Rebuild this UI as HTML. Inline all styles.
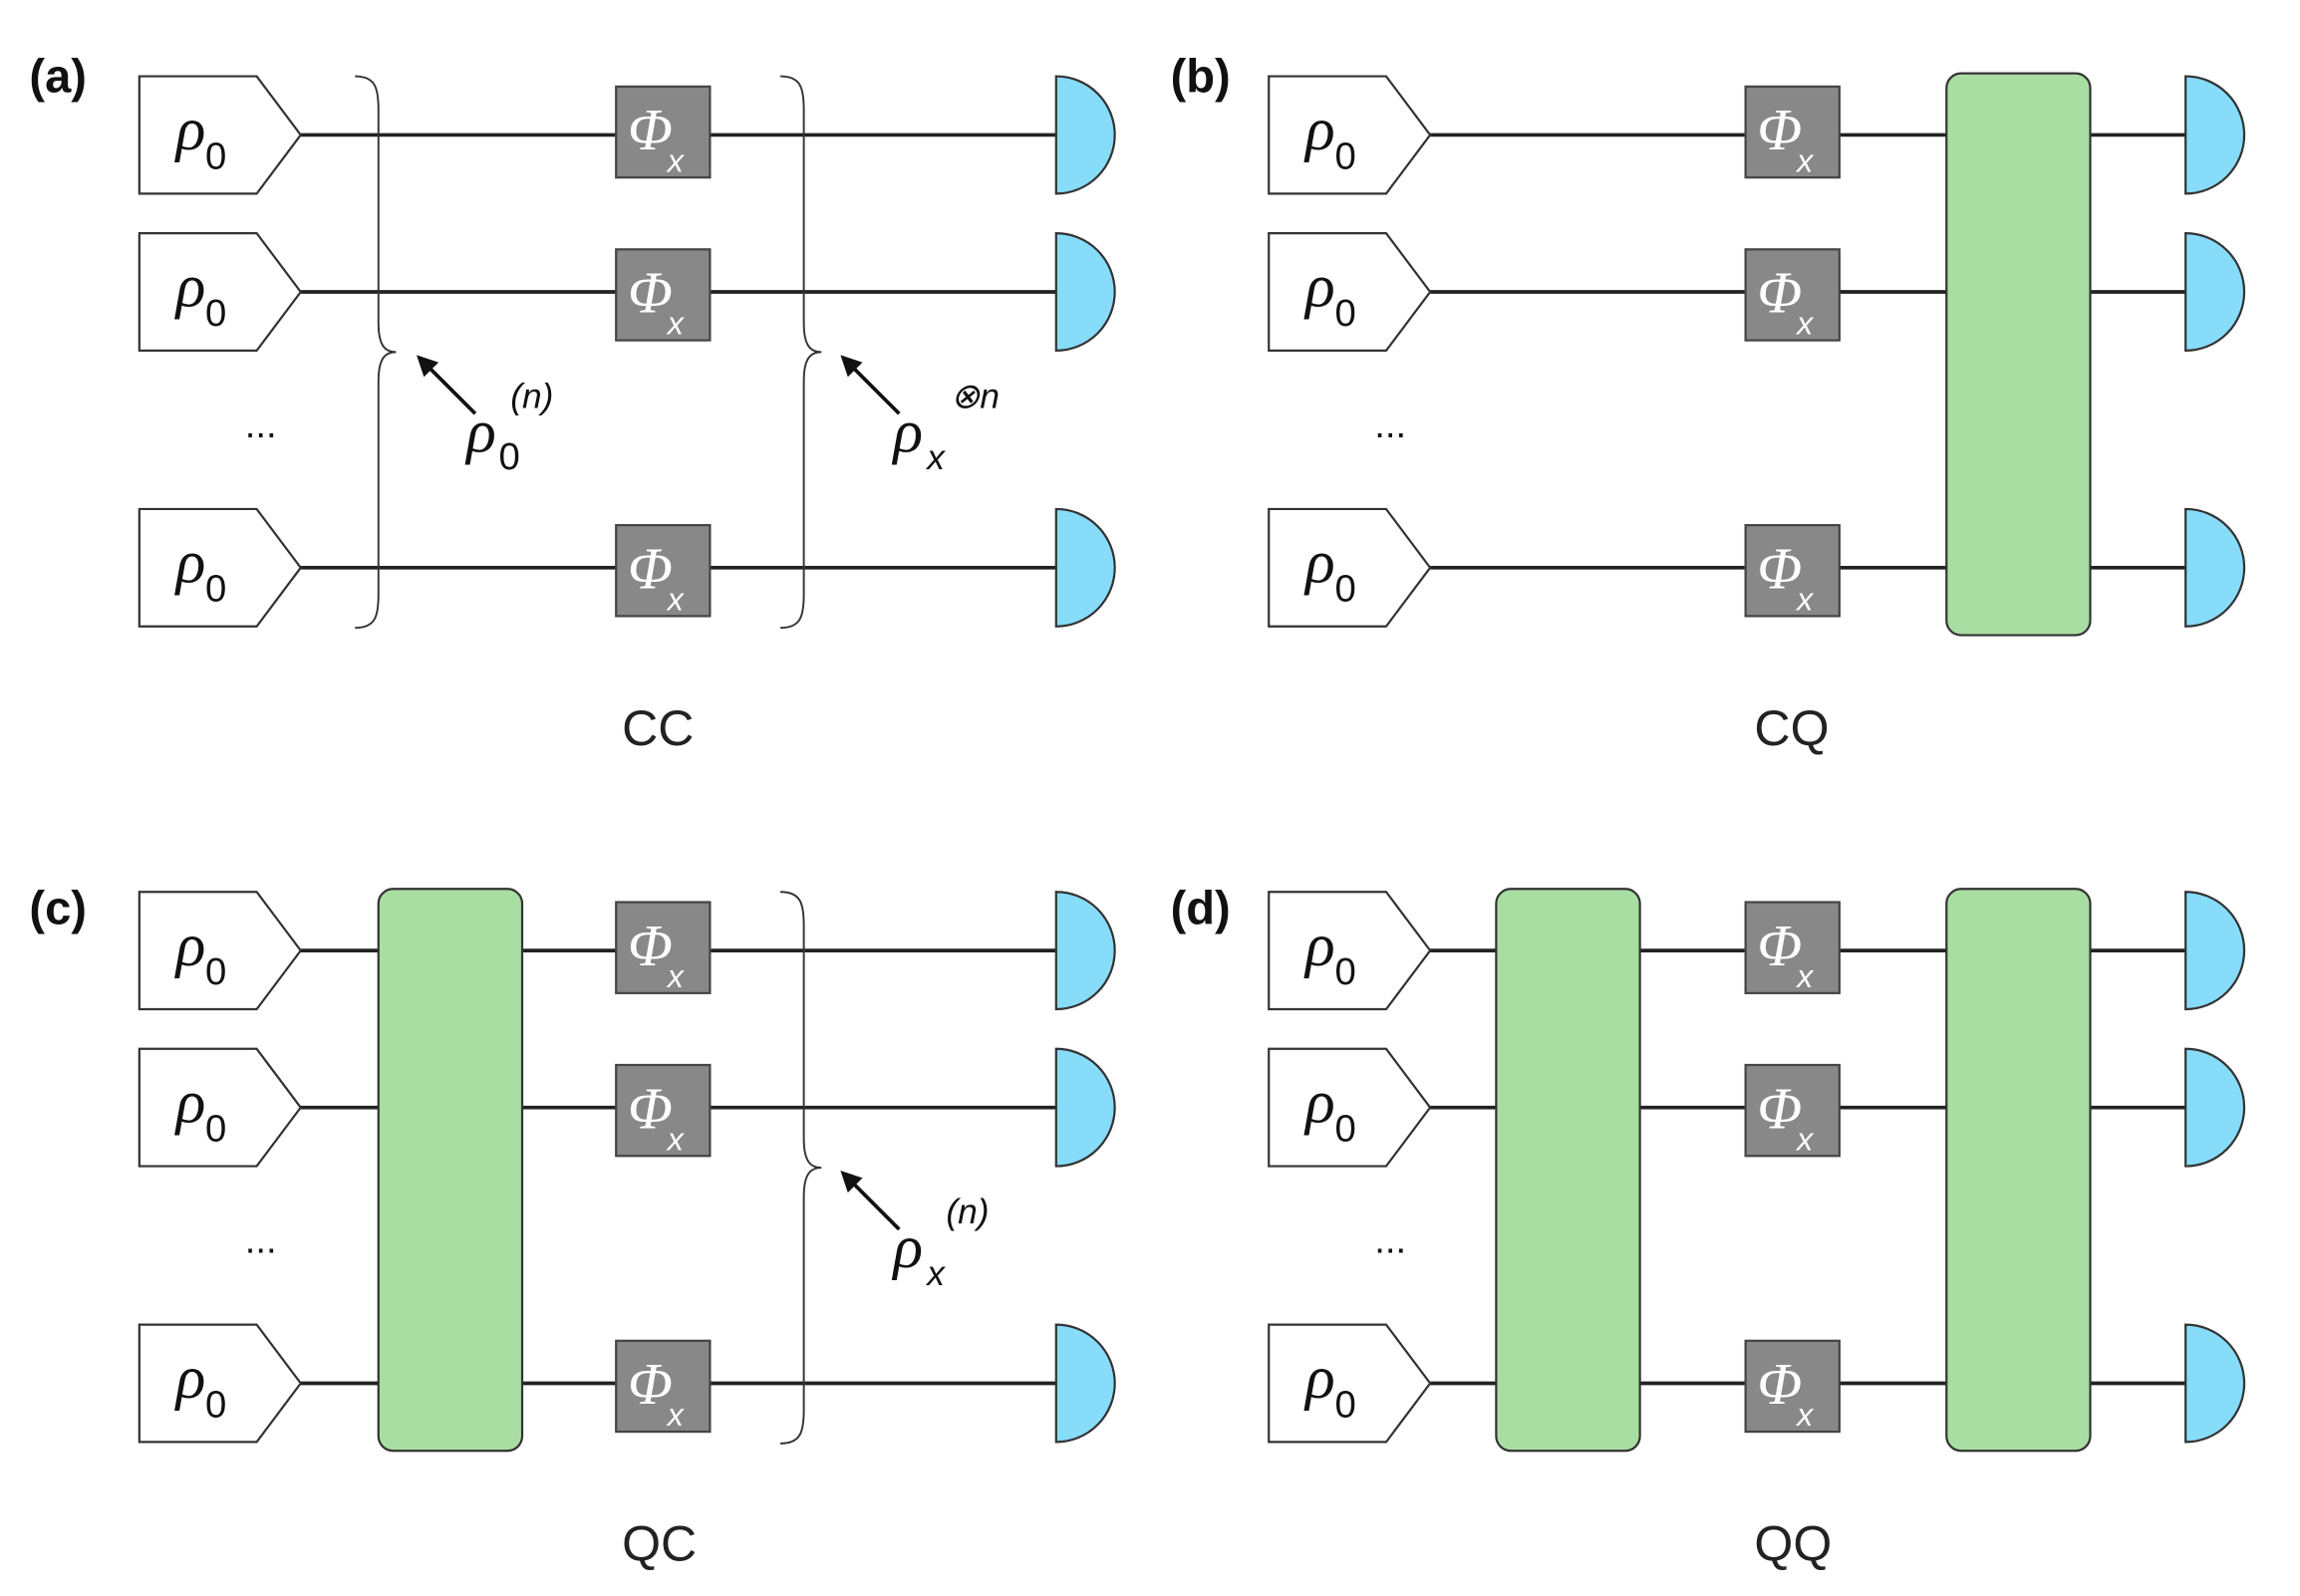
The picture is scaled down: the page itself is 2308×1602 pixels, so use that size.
<!DOCTYPE html>
<html><head><meta charset="utf-8"><style>
html,body{margin:0;padding:0;background:#fff;width:2308px;height:1602px;overflow:hidden}
svg{display:block}
.rho{font-family:"Liberation Serif",serif;font-style:italic;font-size:42px;fill:#111}
.sub{font-family:"Liberation Sans",sans-serif;font-size:26px;fill:#111}
.phi{font-family:"Liberation Serif",serif;font-style:italic;font-size:40px;fill:#fff}
.phs{font-family:"Liberation Sans",sans-serif;font-style:italic;font-size:22px;fill:#fff}
.lab{font-family:"Liberation Sans",sans-serif;font-size:34px;fill:#222}
.pl{font-family:"Liberation Sans",sans-serif;font-weight:bold;font-size:32px;fill:#111}
.sup{font-family:"Liberation Sans",sans-serif;font-style:italic;font-size:24px;fill:#111}
</style></head><body>
<svg width="2308" height="1602" viewBox="0 0 1568 1088" preserveAspectRatio="none" xmlns="http://www.w3.org/2000/svg">
<defs>
<g id="wires" stroke="#222" stroke-width="2.5">
<line x1="205" y1="92" x2="722" y2="92"/><line x1="205" y1="199" x2="722" y2="199"/><line x1="205" y1="387" x2="722" y2="387"/>
</g>
<g id="srcs" fill="#fff" stroke="#333" stroke-width="1.5">
<path d="M95,52H175L205,92L175,132H95Z"/><path d="M95,159H175L205,199L175,239H95Z"/><path d="M95,347H175L205,387L175,427H95Z"/>
</g>
<g id="dets" fill="#87dcfa" stroke="#333" stroke-width="1.5">
<path d="M720,52A40,40 0 0 1 720,132Z"/><path d="M720,159A40,40 0 0 1 720,239Z"/><path d="M720,347A40,40 0 0 1 720,427Z"/>
</g>
<g id="phib" fill="#888" stroke="#444" stroke-width="1.5">
<rect x="420" y="59" width="64" height="62"/><rect x="420" y="170" width="64" height="62"/><rect x="420" y="358" width="64" height="62"/>
</g>
<path id="brace" d="M0,0C14,0 16,8 16,23L16,168C16,183 20,188 28,188C20,188 16,193 16,208L16,353C16,368 14,376 0,376" fill="none" stroke="#333" stroke-width="1.3"/>
<g id="arrow"><line x1="40" y1="40" x2="6" y2="6" stroke="#111" stroke-width="2.5"/><polygon points="0,0 15,5 5,15" fill="#111"/></g>
</defs>

<g>
<use href="#wires"/><use href="#srcs"/><use href="#phib"/><use href="#dets"/>
<use href="#brace" transform="translate(242,52)"/><use href="#brace" transform="translate(532,52)"/>
<use href="#arrow" transform="translate(284,242)"/><use href="#arrow" transform="translate(573,242)"/>
<text class="pl" x="20" y="63">(a)</text>
<text class="rho" x="120" y="102">ρ</text><text class="sub" x="140" y="115">0</text>
<text class="rho" x="120" y="209">ρ</text><text class="sub" x="140" y="222">0</text>
<text class="rho" x="120" y="397">ρ</text><text class="sub" x="140" y="410">0</text>
<text class="phi" x="428" y="102">Φ</text><text class="phs" x="455" y="117">x</text>
<text class="phi" x="428" y="213">Φ</text><text class="phs" x="455" y="228">x</text>
<text class="phi" x="428" y="401">Φ</text><text class="phs" x="455" y="416">x</text>
<text class="sub" x="167" y="298">...</text>
<text class="rho" x="318" y="308">ρ</text><text class="sub" x="340" y="320">0</text><text class="sup" x="348" y="278">(n)</text>
<text class="rho" x="609" y="308">ρ</text><text class="sup" x="632" y="320">x</text><text class="sup" x="648" y="278">⊗n</text>
<text class="lab" x="424" y="508">CC</text>
</g>

<g transform="translate(770,0)">
<use href="#wires"/><use href="#srcs"/><use href="#phib"/><use href="#dets"/>
<rect x="557" y="50" width="98" height="383" rx="10" fill="#a8dea2" stroke="#333" stroke-width="1.5"/>
<text class="pl" x="28" y="63">(b)</text>
<text class="rho" x="120" y="102">ρ</text><text class="sub" x="140" y="115">0</text>
<text class="rho" x="120" y="209">ρ</text><text class="sub" x="140" y="222">0</text>
<text class="rho" x="120" y="397">ρ</text><text class="sub" x="140" y="410">0</text>
<text class="phi" x="428" y="102">Φ</text><text class="phs" x="455" y="117">x</text>
<text class="phi" x="428" y="213">Φ</text><text class="phs" x="455" y="228">x</text>
<text class="phi" x="428" y="401">Φ</text><text class="phs" x="455" y="416">x</text>
<text class="sub" x="167" y="298">...</text>
<text class="lab" x="426" y="508">CQ</text>
</g>

<g transform="translate(0,556)">
<use href="#wires"/><use href="#srcs"/><use href="#phib"/><use href="#dets"/>
<rect x="258" y="50" width="98" height="383" rx="10" fill="#a8dea2" stroke="#333" stroke-width="1.5"/>
<use href="#brace" transform="translate(532,52)"/>
<use href="#arrow" transform="translate(573,242)"/>
<text class="pl" x="20" y="74">(c)</text>
<text class="rho" x="120" y="102">ρ</text><text class="sub" x="140" y="115">0</text>
<text class="rho" x="120" y="209">ρ</text><text class="sub" x="140" y="222">0</text>
<text class="rho" x="120" y="397">ρ</text><text class="sub" x="140" y="410">0</text>
<text class="phi" x="428" y="102">Φ</text><text class="phs" x="455" y="117">x</text>
<text class="phi" x="428" y="213">Φ</text><text class="phs" x="455" y="228">x</text>
<text class="phi" x="428" y="401">Φ</text><text class="phs" x="455" y="416">x</text>
<text class="sub" x="167" y="298">...</text>
<text class="rho" x="609" y="308">ρ</text><text class="sup" x="632" y="320">x</text><text class="sup" x="645" y="278">(n)</text>
<text class="lab" x="424" y="508">QC</text>
</g>

<g transform="translate(770,556)">
<use href="#wires"/><use href="#srcs"/><use href="#phib"/><use href="#dets"/>
<rect x="250" y="50" width="98" height="383" rx="10" fill="#a8dea2" stroke="#333" stroke-width="1.5"/>
<rect x="557" y="50" width="98" height="383" rx="10" fill="#a8dea2" stroke="#333" stroke-width="1.5"/>
<text class="pl" x="28" y="74">(d)</text>
<text class="rho" x="120" y="102">ρ</text><text class="sub" x="140" y="115">0</text>
<text class="rho" x="120" y="209">ρ</text><text class="sub" x="140" y="222">0</text>
<text class="rho" x="120" y="397">ρ</text><text class="sub" x="140" y="410">0</text>
<text class="phi" x="428" y="102">Φ</text><text class="phs" x="455" y="117">x</text>
<text class="phi" x="428" y="213">Φ</text><text class="phs" x="455" y="228">x</text>
<text class="phi" x="428" y="401">Φ</text><text class="phs" x="455" y="416">x</text>
<text class="sub" x="167" y="298">...</text>
<text class="lab" x="426" y="508">QQ</text>
</g>
</svg>
</body></html>
